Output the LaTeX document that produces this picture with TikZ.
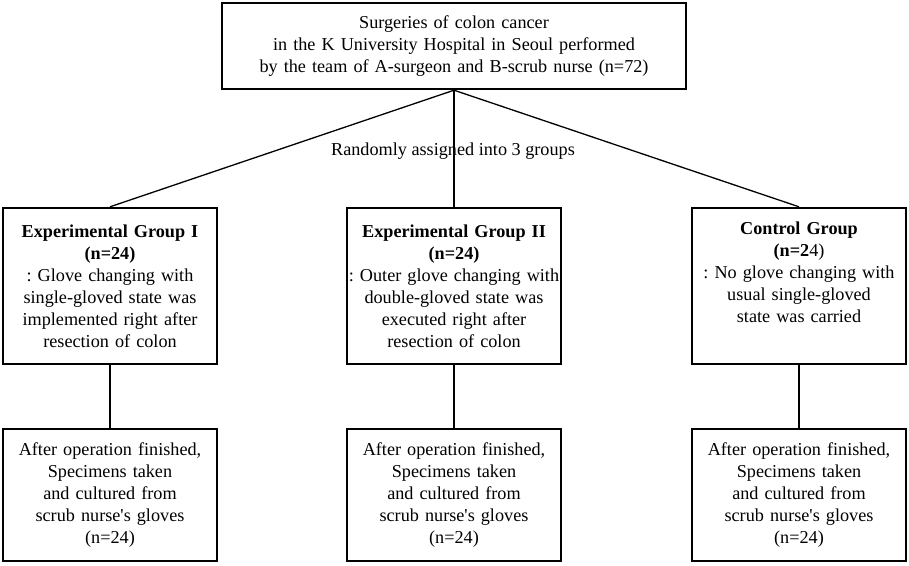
\documentclass[tikz,border=0pt]{standalone}
\usepackage{fontspec}
\setmainfont{Liberation Serif}
\usetikzlibrary{positioning}
\frenchspacing
\begin{document}
\begin{tikzpicture}[x=1pt,y=-1pt,
	box/.style={draw,line width=2.4pt,minimum width=214pt,text width=214pt,align=center,inner xsep=0pt,inner ysep=2pt,font=\fontsize{18.2}{22}\selectfont},
	link/.style={line width=1.3pt}]
\useasboundingbox (0,0) rectangle (909,565);
% top
\node[box,minimum width=464pt,text width=456pt,minimum height=86pt] (surg) at (454,46)
	{Surgeries of colon cancer\\ in the K University Hospital in Seoul performed\\ by the team of A-surgeon and B-scrub nurse (n=72)};
% groups
\node[box,minimum height=156pt] (grpA) at (110,286)
	{\textbf{Experimental Group I}\\ \textbf{(n=24)}\\ : Glove changing with\\ single-gloved state was\\ implemented right after\\ resection of colon};
\node[box,minimum height=156pt] (grpB) at (454,286)
	{\textbf{Experimental Group II}\\ \textbf{(n=24)}\\ : Outer glove changing with\\ double-gloved state was\\ executed right after\\ resection of colon};
\node[box,minimum height=156pt] (ctrl) at (799,286)
	{\textbf{Control Group}\\ \textbf{(n=2}4)\\ : No glove changing with\\ usual single-gloved\\ state was carried\\ \strut};
% cultures
\node[box,minimum height=132pt] (cultA) at (110,495)
	{After operation finished,\\ Specimens taken\\ and cultured from\\ scrub nurse\textquotesingle s gloves\\ (n=24)};
\node[box,minimum height=132pt] (cultB) at (454,495)
	{After operation finished,\\ Specimens taken\\ and cultured from\\ scrub nurse\textquotesingle s gloves\\ (n=24)};
\node[box,minimum height=132pt] (cultC) at (799,495)
	{After operation finished,\\ Specimens taken\\ and cultured from\\ scrub nurse\textquotesingle s gloves\\ (n=24)};
\node[font=\fontsize{18.2}{22}\selectfont] (rand) at (453,151) {Randomly assigned into 3 groups};
\draw[link] (surg.south) -- (grpA.north);
\draw[link] (surg.south) -- (grpB.north);
\draw[link] (surg.south) -- (ctrl.north);
\draw[link] (grpA) -- (cultA);
\draw[link] (grpB) -- (cultB);
\draw[link] (ctrl) -- (cultC);
\end{tikzpicture}
\end{document}
